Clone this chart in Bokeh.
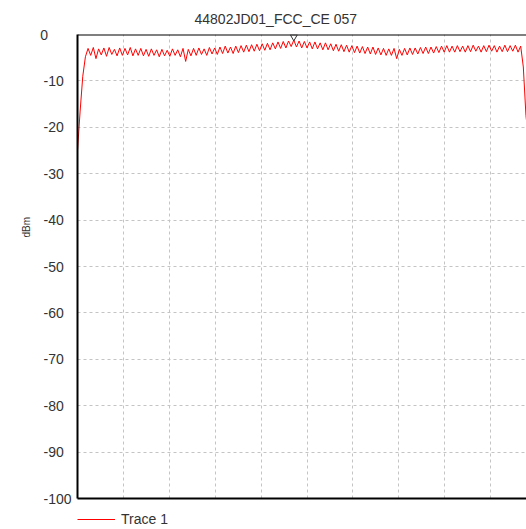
import numpy as np
from bokeh.plotting import figure
from bokeh.layouts import column
from bokeh.models import Range1d, FixedTicker, Legend, LegendItem, Title
from bokeh.embed import file_html
from bokeh.resources import INLINE

# Trace 1, sampled uniformly across the sweep (dBm):
# rising edge, ripple maxima, ripple minima (between maxima), falling edge.
rise_dbm = [-25.0, -16.5, -9.0, -4.8]
peak_dbm = [
    -3.0, -2.8, -3.1, -2.9, -2.8, -3.2, -2.9, -3.0, -2.8, -3.1,
    -3.0, -3.2, -3.1, -3.3, -3.2, -3.4, -3.1, -3.3, -3.0, -3.2,
    -3.0, -2.9, -3.1, -2.8, -2.9, -2.7, -2.5, -2.7, -2.5, -2.4,
    -2.3, -2.2, -2.1, -2.0, -1.9, -1.8, -1.6, -1.5, -1.4, -1.2,
    -1.4, -1.5, -1.6, -1.6, -1.8, -1.8, -2.0, -2.1, -2.2, -2.3,
    -2.4, -2.5, -2.6, -2.7, -2.7, -2.9, -3.0, -3.1, -3.0, -3.2,
    -3.0, -2.9, -2.9, -2.8, -2.7, -2.7, -2.6, -2.5, -2.4, -2.5,
    -2.4, -2.5, -2.4, -2.3, -2.5, -2.4, -2.3, -2.4, -2.5, -2.3,
    -2.4, -2.3, -2.5,
]
dip_dbm = [
    -4.5, -5.2, -4.4, -4.7, -4.3, -4.6, -4.5, -4.4, -4.6, -4.5,
    -4.6, -4.7, -4.5, -4.8, -4.6, -4.7, -4.5, -4.8, -5.8, -4.6,
    -4.5, -4.3, -4.5, -4.2, -4.3, -4.1, -4.0, -4.1, -3.9, -3.8,
    -3.7, -3.6, -3.5, -3.4, -3.3, -3.1, -3.0, -2.9, -2.6, -2.7,
    -2.9, -2.9, -3.1, -3.1, -3.3, -3.3, -3.5, -3.6, -3.7, -3.8,
    -3.9, -4.0, -4.1, -4.2, -4.3, -4.4, -4.5, -4.5, -5.2, -4.5,
    -4.4, -4.3, -4.2, -4.1, -4.1, -4.0, -3.9, -3.8, -3.8, -3.8,
    -3.7, -3.8, -3.7, -3.6, -3.8, -3.7, -3.6, -3.8, -3.7, -3.7,
    -3.6, -3.8,
]
fall_dbm = [-7.0, -17.5, -22.5, -24.5, -25.0, -25.5]

y_ticks = [0, -10, -20, -30, -40, -50, -60, -70, -80, -90, -100]
x_divisions = [1, 2, 3, 4, 5, 6, 7, 8, 9]
title_text = "44802JD01_FCC_CE 057"
trace_name = "Trace 1"
y_unit = "dBm"

# interleave maxima and minima into the ripple section
ripple = []
for i, pk in enumerate(peak_dbm):
    ripple.append(pk)
    if i < len(dip_dbm):
        ripple.append(dip_dbm[i])
trace = np.array(rise_dbm + ripple + fall_dbm)
x = np.linspace(0, 10, len(trace))  # sweep spans 10 divisions

FONT = "Liberation Sans"
TRACE_STYLE = dict(line_color="#ff0000", line_width=1)

p = figure(
    width=526, height=508,
    x_range=Range1d(0, 9.782), y_range=Range1d(-100, 0),
    output_backend="svg", toolbar_location=None,
    min_border_left=77, min_border_right=0,
    min_border_top=34, min_border_bottom=10,
    outline_line_color=None,
    background_fill_color="white", border_fill_color="white",
)

p.title.text = title_text
p.title.text_font = FONT
p.title.text_font_size = "14px"
p.title.text_font_style = "normal"
p.title.text_color = "#333333"
p.title.align = "left"
p.title.offset = 117
p.title.standoff = 16

# y axis: plain hyphen labels, padded with figure spaces so they line up on the left
ya = p.yaxis[0]
ya.ticker = FixedTicker(ticks=y_ticks)
ya.major_label_overrides = {t: str(t).ljust(4, "\u2007") for t in y_ticks}
ya.major_tick_line_color = None
ya.minor_tick_line_color = None
ya.major_tick_out = 0
ya.major_tick_in = 0
ya.major_label_text_font = FONT
ya.major_label_text_font_size = "14px"
ya.major_label_text_color = "#333333"
ya.major_label_standoff = 6
ya.axis_line_color = "black"
ya.axis_line_width = 2

# unit, written vertically left of the tick labels
p.add_layout(Title(text=y_unit, text_font=FONT, text_font_size="10px",
                   text_font_style="normal", text_color="#333333",
                   align="left", offset=261, standoff=12), "left")

# x axis reduced to its line
xa = p.xaxis[0]
xa.ticker = FixedTicker(ticks=x_divisions)
xa.major_tick_line_color = None
xa.minor_tick_line_color = None
xa.major_tick_out = 0
xa.major_tick_in = 0
xa.major_label_standoff = 0
xa.major_label_text_font_size = "1px"
xa.major_label_text_color = None
xa.axis_line_color = "black"
xa.axis_line_width = 2

# dashed grid
p.xgrid.ticker = FixedTicker(ticks=x_divisions)
p.ygrid.ticker = FixedTicker(ticks=y_ticks)
for g in (p.xgrid[0], p.ygrid[0]):
    g.grid_line_color = "#c4c4c4"
    g.grid_line_dash = "3 3"
    g.grid_line_width = 1

p.line(x, trace, **TRACE_STYLE)

# top border of the frame
p.line([0, 9.782], [0, 0], line_color="black", line_width=2)

# peak marker
k = int(np.argmax(trace))
p.scatter([x[k]], [trace[k] + 0.7], marker="inverted_triangle", size=7,
          fill_color="white", fill_alpha=0, line_color="#333333", line_width=1)

# legend strip under the plot (its frame lines up with the plot frame)
leg = figure(width=526, height=21, x_range=Range1d(0, 1), y_range=Range1d(0, 1),
             output_backend="svg", toolbar_location=None,
             min_border_left=0, min_border_right=0,
             min_border_top=0, min_border_bottom=0,
             outline_line_color=None, border_fill_color="white")
leg.axis.visible = False
leg.grid.visible = False
r_leg = leg.line(x, trace, **TRACE_STYLE)  # outside this strip's range
legend = Legend(items=[LegendItem(label=trace_name, renderers=[r_leg])],
                location=(0, 0), orientation="horizontal",
                border_line_color=None, background_fill_alpha=0,
                label_text_font=FONT, label_text_font_size="14px",
                label_text_color="#333333",
                glyph_width=38, label_standoff=6, padding=0, margin=0)
leg.add_layout(legend)

open("out.html", "w").write(file_html(column(p, leg, spacing=0), INLINE))
